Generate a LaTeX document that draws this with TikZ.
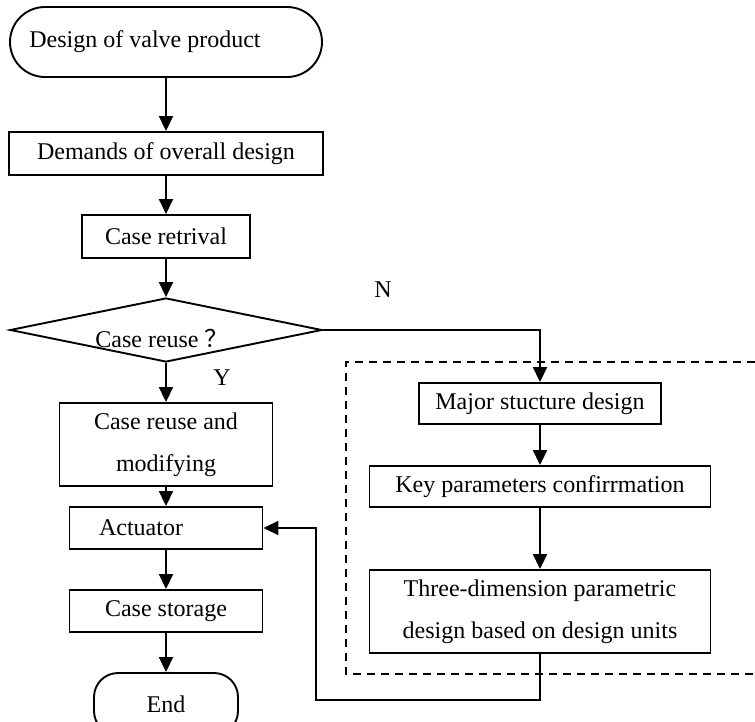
\documentclass[tikz,border=0pt]{standalone}
\usepackage{fontspec}
\setmainfont{Liberation Serif}
\newfontfamily\cjk{Noto Sans CJK SC}
\usetikzlibrary{shapes.geometric,arrows.meta}
\begin{document}
\begin{tikzpicture}[x=1pt,y=-1pt,
  every node/.style={font=\fontsize{24}{42}\selectfont, inner sep=0pt},
  box/.style={draw, line width=1.9pt, rectangle},
  term/.style={draw, line width=1.9pt, rectangle},
  arr/.style={line width=1.9pt, -{Triangle[width=14pt,length=15pt]}},
  ln/.style={line width=1.9pt}]
\useasboundingbox (0,0) rectangle (755,722);
% left column
\node[term, rounded corners=35pt, minimum width=312pt, minimum height=70pt] (start) at (166,42) {};
\node (starttxt) at (145,42) {Design of valve product};
\node[box, minimum width=314pt, minimum height=43pt] (dem) at (166,153.5) {Demands of overall design};
\node[box, minimum width=168pt, minimum height=43pt] (ret) at (166,236.5) {Case retrival};
\node[draw, line width=1.9pt, diamond, minimum width=312pt, minimum height=64pt] (dia) at (166,330) {};
\node (diatxt) at (162,338) {Case reuse\hspace{0.25em}{\cjk ？}};
\node[box, minimum width=213pt, minimum height=83pt, align=center] (mod) at (166,444.5) {Case reuse and\\modifying};
\node[box, minimum width=193pt, minimum height=42pt] (act) at (166,528) {};
\node (acttxt) at (141,528) {Actuator};
\node[box, minimum width=193pt, minimum height=42pt] (sto) at (166,611) {Case storage};
\node[term, rounded corners=24pt, minimum width=144pt, minimum height=62pt] (end) at (166,704) {};
\node (endtxt) at (166,704) {End};
% right column
\node[box, minimum width=242pt, minimum height=41pt] (maj) at (540,403.5) {Major stucture design};
\node[box, minimum width=341pt, minimum height=41pt] (key) at (540,486.5) {Key parameters confirrmation};
\node[box, minimum width=341pt, minimum height=83pt, align=center] (thr) at (540,611.5) {Three-dimension parametric\\design based on design units};
% labels
\node (ylab) at (222,378) {Y};
\node (nlab) at (383,290) {N};
% dashed frame
\coordinate (dtr) at (755,362);
\coordinate (dtl) at (346,362);
\coordinate (dbl) at (346,674);
\coordinate (dbr) at (755,674);
\draw[ln, dash pattern=on 8pt off 6pt] (dtr) -- (dtl) -- (dbl) -- (dbr);
% connectors
\draw[arr] (start) -- (dem);
\draw[arr] (dem) -- (ret);
\draw[arr] (ret) -- (dia.north);
\draw[arr] (dia.south) -- (mod);
\draw[arr] (mod) -- (act);
\draw[arr] (act) -- (sto);
\draw[arr] (sto) -- (end);
\draw[arr] (dia.east) -| (maj.north);
\draw[arr] (maj) -- (key);
\draw[arr] (key) -- (thr);
\coordinate (fb) at (316,700);
\draw[arr] (thr.south) |- (fb) |- (act.east);
\end{tikzpicture}
\end{document}
